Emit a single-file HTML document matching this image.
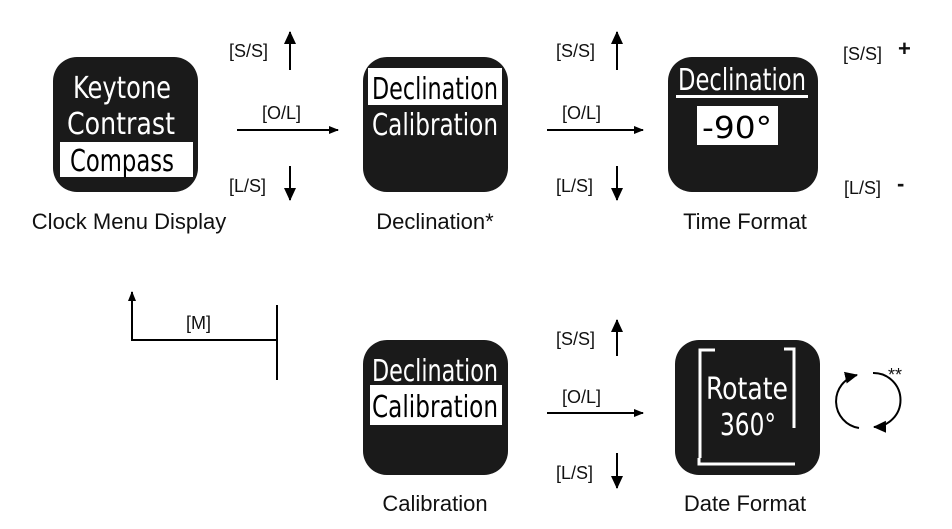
<!DOCTYPE html>
<html><head><meta charset="utf-8"><style>
html,body{margin:0;padding:0;background:#fff;}
svg{display:block;}
.lbl{font-family:"Liberation Sans",sans-serif;font-size:22px;fill:#111;}
.key{font-family:"Liberation Sans",sans-serif;font-size:18px;fill:#111;}
.scr{font-family:"Liberation Sans Narrow","DejaVu Sans Condensed","Liberation Sans",sans-serif;font-size:30px;}
</style></head><body>
<svg width="952" height="529" viewBox="0 0 952 529" xmlns="http://www.w3.org/2000/svg">
<defs>
<marker id="ah" markerWidth="10" markerHeight="10" refX="9" refY="5" orient="auto" markerUnits="userSpaceOnUse">
<path d="M0,1 L10,5 L0,9 z" fill="#000"/></marker>
<marker id="ah2" markerWidth="14" markerHeight="14" refX="12" refY="7" orient="auto" markerUnits="userSpaceOnUse">
<path d="M0,1 L13,7 L0,13 z" fill="#000"/></marker>
</defs>
<g stroke="#000" stroke-width="2" fill="none">
<line x1="237" y1="130" x2="338" y2="130" marker-end="url(#ah)"/>
<line x1="290" y1="70" x2="290" y2="32" marker-end="url(#ah2)"/>
<line x1="290" y1="166" x2="290" y2="200" marker-end="url(#ah2)"/>
<line x1="547" y1="130" x2="643" y2="130" marker-end="url(#ah)"/>
<line x1="617" y1="70" x2="617" y2="32" marker-end="url(#ah2)"/>
<line x1="617" y1="166" x2="617" y2="200" marker-end="url(#ah2)"/>
<polyline points="277,340 132,340 132,292" marker-end="url(#ah)"/>
<line x1="277" y1="305" x2="277" y2="380"/>
<line x1="547" y1="413" x2="643" y2="413" marker-end="url(#ah)"/>
<line x1="617" y1="356" x2="617" y2="320" marker-end="url(#ah2)"/>
<line x1="617" y1="453" x2="617" y2="488" marker-end="url(#ah2)"/>
<path d="M859,428 A27,27 0 0 1 857,375" marker-end="url(#ah2)"/>
<path d="M873,373 A27,27 0 0 1 874,427" marker-end="url(#ah2)"/>
</g>
<text class="key" x="229" y="57">[S/S]</text>
<text class="key" x="229" y="192">[L/S]</text>
<text class="key" x="262" y="119">[O/L]</text>
<text class="key" x="556" y="57">[S/S]</text>
<text class="key" x="556" y="192">[L/S]</text>
<text class="key" x="562" y="119">[O/L]</text>
<text class="key" x="843" y="60">[S/S]</text>
<text class="lbl" x="898" y="56" font-weight="bold">+</text>
<text class="key" x="844" y="194">[L/S]</text>
<text class="lbl" x="897" y="191" font-weight="bold">-</text>
<text class="key" x="186" y="329">[M]</text>
<text class="key" x="556" y="345">[S/S]</text>
<text class="key" x="556" y="479">[L/S]</text>
<text class="key" x="562" y="403">[O/L]</text>
<text class="key" x="888" y="381" fill="#333">**</text>
<text class="lbl" x="129" y="229" text-anchor="middle">Clock Menu Display</text>
<text class="lbl" x="435" y="229" text-anchor="middle">Declination*</text>
<text class="lbl" x="745" y="229" text-anchor="middle">Time Format</text>
<text class="lbl" x="435" y="511" text-anchor="middle">Calibration</text>
<text class="lbl" x="745" y="511" text-anchor="middle">Date Format</text>
<g fill="#1a1a1a">
<rect x="53" y="57" width="145" height="135" rx="24"/>
<rect x="363" y="57" width="145" height="135" rx="24"/>
<rect x="668" y="57" width="150" height="135" rx="24"/>
<rect x="363" y="340" width="145" height="135" rx="24"/>
<rect x="675" y="340" width="145" height="135" rx="24"/>
</g>
<text class="scr" x="73" y="98" fill="#fff" textLength="98" lengthAdjust="spacingAndGlyphs">Keytone</text>
<text class="scr" x="67" y="134" fill="#fff" textLength="108" lengthAdjust="spacingAndGlyphs">Contrast</text>
<rect x="60" y="142" width="133" height="35" fill="#fff"/>
<text class="scr" x="70" y="171" fill="#000" textLength="104" lengthAdjust="spacingAndGlyphs">Compass</text>
<rect x="368" y="68" width="134" height="37" fill="#fff"/>
<text class="scr" x="372" y="99" fill="#000" textLength="126" lengthAdjust="spacingAndGlyphs">Declination</text>
<text class="scr" x="372" y="135" fill="#fff" textLength="126" lengthAdjust="spacingAndGlyphs">Calibration</text>
<text class="scr" x="678" y="90" fill="#fff" textLength="128" lengthAdjust="spacingAndGlyphs">Declination</text>
<rect x="676" y="95" width="132" height="3" fill="#fff"/>
<rect x="697" y="106" width="81" height="39" fill="#fff"/>
<text class="scr" x="702" y="138" fill="#000" textLength="70" lengthAdjust="spacingAndGlyphs">-90°</text>
<text class="scr" x="372" y="381" fill="#fff" textLength="126" lengthAdjust="spacingAndGlyphs">Declination</text>
<rect x="370" y="385" width="132" height="40" fill="#fff"/>
<text class="scr" x="372" y="417" fill="#000" textLength="126" lengthAdjust="spacingAndGlyphs">Calibration</text>
<g stroke="#fff" stroke-width="3" fill="none">
<polyline points="715,350 700,350 700,458"/>
<polyline points="784,349 794,349 794,428"/>
<polyline points="699,458 699,464 795,464"/>
</g>
<text class="scr" x="706" y="399" fill="#fff" textLength="82" lengthAdjust="spacingAndGlyphs">Rotate</text>
<text class="scr" x="720" y="435" fill="#fff" textLength="56" lengthAdjust="spacingAndGlyphs">360°</text>
</svg>
</body></html>
